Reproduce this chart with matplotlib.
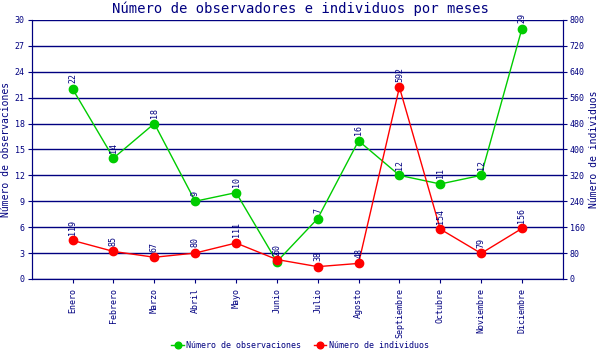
import matplotlib.pyplot as plt

meses = ["Enero", "Febrero", "Marzo", "Abril", "Mayo", "Junio", "Julio",
         "Agosto", "Septiembre", "Octubre", "Noviembre", "Diciembre"]
observaciones = [22, 14, 18, 9, 10, 2, 7, 16, 12, 11, 12, 29]
individuos = [119, 85, 67, 80, 111, 60, 38, 48, 592, 154, 79, 156]

navy = "#000080"
plt.rcParams['font.family'] = ['DejaVu Sans Mono']

fig = plt.figure(figsize=(6, 3.5), dpi=100)
ax = fig.add_axes([0.053, 0.203, 0.885, 0.74])
ax2 = ax.twinx()

x = list(range(len(meses)))

for y in range(0, 31, 3):
    ax.axhline(y, color=navy, linewidth=1, zorder=0)

l1, = ax.plot(x, observaciones, color="#00cc00", linewidth=1, marker="o",
              markersize=6, label="Número de observaciones", zorder=3)
l2, = ax2.plot(x, individuos, color="#ff0000", linewidth=1, marker="o",
               markersize=6, label="Número de individuos", zorder=3)

for xi, v in zip(x, observaciones):
    ax.annotate(str(v), (xi, v), xytext=(0, 4), textcoords="offset points",
                rotation=90, ha="center", va="bottom", fontsize=6, color=navy)
for xi, v in zip(x, individuos):
    ax2.annotate(str(v), (xi, v), xytext=(0, 4), textcoords="offset points",
                 rotation=90, ha="center", va="bottom", fontsize=6, color=navy)

ax.set_xlim(-1, 12)
ax.set_ylim(0, 30)
ax2.set_ylim(0, 800)
ax.set_yticks(range(0, 31, 3))
ax2.set_yticks(range(0, 801, 80))
ax.set_xticks(x)
ax.set_xticklabels(meses, rotation=90, fontsize=6, color=navy)

ax.tick_params(axis="y", labelsize=6, colors=navy, length=3, pad=2)
ax2.tick_params(axis="y", labelsize=6, colors=navy, length=3, pad=2)
ax.tick_params(axis="x", colors=navy, length=3)

for a in (ax, ax2):
    a.spines["top"].set_visible(False)
    for s in ("left", "right", "bottom"):
        a.spines[s].set_color(navy)

ax.set_ylabel("Número de observaciones", color=navy, fontsize=7, labelpad=3)
ax2.set_ylabel("Número de individuos", color=navy, fontsize=7, labelpad=3)
fig.suptitle("Número de observadores e individuos por meses", color=navy,
             fontsize=10, y=0.995)

fig.legend(handles=[l1, l2], loc="lower center", ncol=2, frameon=False,
           fontsize=6, labelcolor=navy, bbox_to_anchor=(0.5, -0.02),
           handlelength=1.5, handletextpad=0.3, columnspacing=1.5,
           markerscale=0.8)

fig.savefig("out.png", dpi=100)
